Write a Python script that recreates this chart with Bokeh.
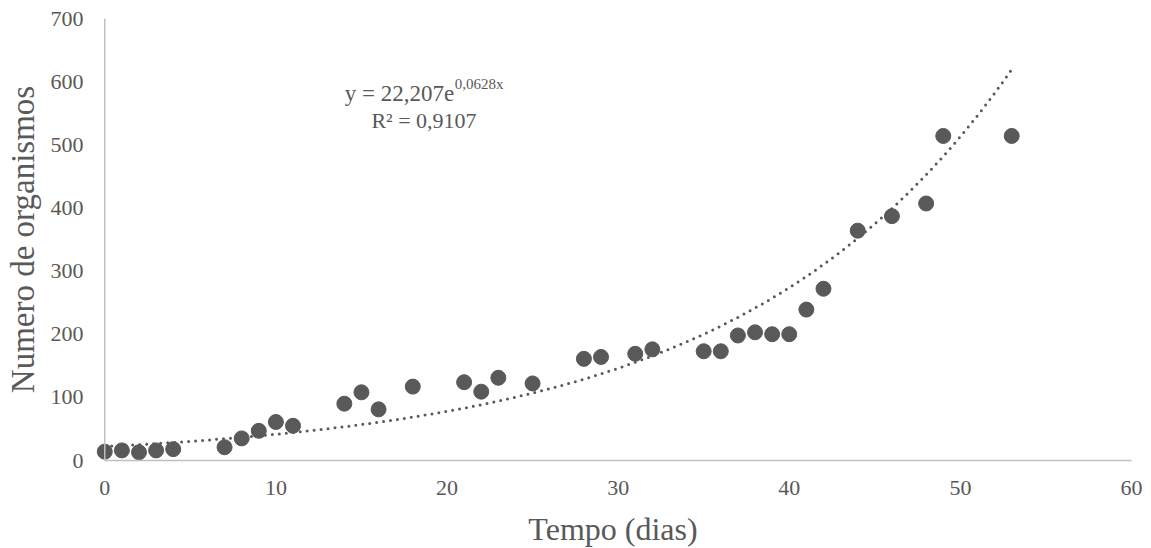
import numpy as np
from bokeh.plotting import figure
from bokeh.models import Range1d, FixedTicker, Label, Span, ColumnDataSource
from bokeh.embed import file_html
from bokeh.resources import INLINE

# Data
dias = [0, 1, 2, 3, 4, 7, 8, 9, 10, 11, 14, 15, 16, 18, 21, 22, 23, 25, 28, 29,
        31, 32, 35, 36, 37, 38, 39, 40, 41, 42, 44, 46, 48, 49, 53]
organismos = [14, 16, 13, 16, 18, 21, 35, 47, 61, 55, 90, 108, 81, 117, 124, 109, 131, 122, 161, 164,
              169, 176, 173, 173, 198, 203, 200, 200, 239, 272, 364, 387, 407, 514, 514]
fit_a = 22.207
fit_b = 0.0628
x_ticks = [0, 10, 20, 30, 40, 50, 60]
y_ticks = [0, 100, 200, 300, 400, 500, 600, 700]
eq_text = "y = 22,207e"
eq_sup = "0,0628x"
r2_text = "R² = 0,9107"

GREY = "#595959"
AXIS = "#bfbfbf"
FONT = "Liberation Serif"

p = figure(frame_width=1037, frame_height=442, output_backend="svg", toolbar_location=None,
           x_range=Range1d(-0.6, 60), y_range=Range1d(0, 700),
           min_border_left=94, min_border_right=20, min_border_top=18, min_border_bottom=88)
p.outline_line_color = None
p.xgrid.visible = False
p.ygrid.visible = False

for ax in (p.xaxis[0], p.yaxis[0]):
    ax.major_tick_line_color = None
    ax.minor_tick_line_color = None
    ax.major_tick_out = 0
    ax.major_tick_in = 0
    ax.minor_tick_out = 0
    ax.minor_tick_in = 0
    ax.major_label_text_font = FONT
    ax.major_label_text_font_size = "22px"
    ax.major_label_text_color = GREY
    ax.axis_label_text_font = FONT
    ax.axis_label_text_font_style = "normal"
    ax.axis_label_text_color = GREY

p.xaxis.axis_label_text_font_size = "32px"
p.yaxis.axis_label_text_font_size = "33px"
p.xaxis.ticker = FixedTicker(ticks=x_ticks)
p.yaxis.ticker = FixedTicker(ticks=y_ticks)
p.xaxis.bounds = (0, 60)
p.xaxis.axis_line_color = AXIS
p.xaxis.axis_line_width = 1.5
p.yaxis.axis_line_color = None
p.xaxis.axis_label = "Tempo (dias)"
p.yaxis.axis_label = "Numero de organismos"
p.xaxis.major_label_standoff = 20
p.yaxis.major_label_standoff = 11
p.xaxis.axis_label_standoff = 13
p.yaxis.axis_label_standoff = 7

p.add_layout(Span(location=0, dimension="height", line_color=AXIS, line_width=1.5))

# trendline
xs = np.linspace(0, max(dias), 300)
ys = fit_a * np.exp(fit_b * xs)
p.line(xs, ys, line_color=GREY, line_width=3, line_dash="0 7", line_cap="round")

src = ColumnDataSource(dict(x=dias, y=organismos))
p.scatter("x", "y", source=src, size=15, fill_color=GREY, line_color=GREY)

p.add_layout(Label(x=20.42, y=582, text=eq_text, text_align="right", text_baseline="alphabetic",
                   text_font=FONT, text_font_size="23px", text_color=GREY))
p.add_layout(Label(x=20.45, y=597, text=eq_sup, text_align="left", text_baseline="alphabetic",
                   text_font=FONT, text_font_size="15px", text_color=GREY))
p.add_layout(Label(x=15.58, y=538, text=r2_text, text_align="left", text_baseline="alphabetic",
                   text_font=FONT, text_font_size="22px", text_color=GREY))

open("out.html", "w").write(file_html(p, INLINE))
